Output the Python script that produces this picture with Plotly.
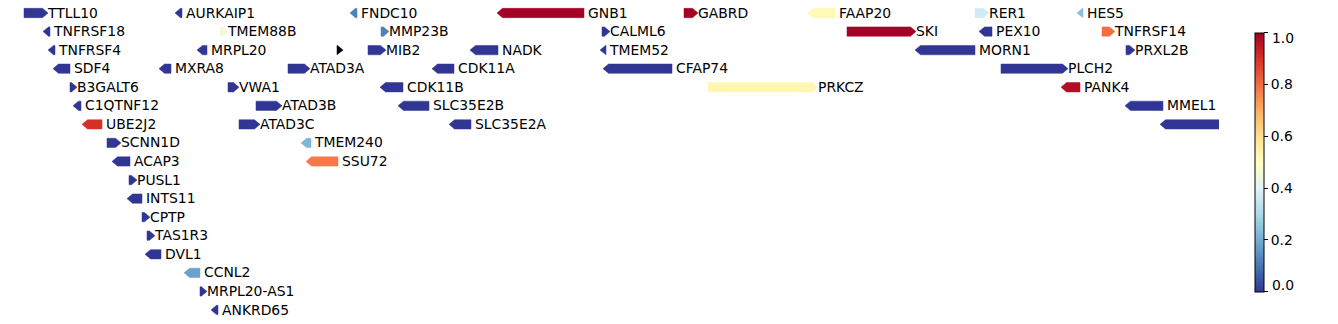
import plotly.graph_objects as go
from plotly.colors import sample_colorscale

# ---- data (gene tracks; positions in plot units) ----
genes = ["TTLL10", "AURKAIP1", "FNDC10", "GNB1", "GABRD", "FAAP20", "RER1", "HES5",
         "TNFRSF18", "TMEM88B", "MMP23B", "CALML6", "SKI", "PEX10", "TNFRSF14",
         "TNFRSF4", "MRPL20", "", "MIB2", "NADK", "TMEM52", "MORN1", "PRXL2B",
         "SDF4", "MXRA8", "ATAD3A", "CDK11A", "CFAP74", "PLCH2",
         "B3GALT6", "VWA1", "CDK11B", "PRKCZ", "PANK4",
         "C1QTNF12", "ATAD3B", "SLC35E2B", "MMEL1",
         "UBE2J2", "ATAD3C", "SLC35E2A", "",
         "SCNN1D", "TMEM240",
         "ACAP3", "SSU72",
         "PUSL1", "INTS11", "CPTP", "TAS1R3", "DVL1", "CCNL2", "MRPL20-AS1", "ANKRD65"]
starts = [24, 175, 350, 497, 684, 808, 975, 1077,
          43, 220, 381, 602, 847, 979, 1102,
          48, 197, 337, 368, 470, 600, 915, 1126,
          53, 159, 288, 432, 603, 1001,
          70, 228, 380, 708, 1061,
          73, 256, 398, 1125,
          82, 239, 449, 1160,
          107, 301,
          112, 306,
          129, 127, 142, 147, 145, 184, 200, 211]
ends = [48, 182, 357, 584, 698, 835, 989, 1083,
        50, 228, 389, 610, 916, 992, 1115,
        55, 207, 343, 386, 498, 606, 975, 1135,
        70, 171, 310, 454, 672, 1068,
        77, 239, 403, 818, 1080,
        81, 282, 429, 1163,
        102, 260, 471, 1230,
        121, 311,
        130, 338,
        137, 142, 150, 155, 161, 200, 207, 218]
strands = ["+", "-", "-", "-", "+", "-", "+", "-",
           "-", "+", "+", "+", "+", "-", "+",
           "-", "-", "+", "+", "-", "-", "-", "+",
           "-", "-", "+", "-", "-", "+",
           "+", "+", "-", "+", "-",
           "-", "+", "-", "-",
           "-", "+", "-", "-",
           "+", "-",
           "-", "-",
           "+", "-", "+", "+", "-", "-", "+", "-"]
rows = [0, 0, 0, 0, 0, 0, 0, 0,
        1, 1, 1, 1, 1, 1, 1,
        2, 2, 2, 2, 2, 2, 2, 2,
        3, 3, 3, 3, 3, 3,
        4, 4, 4, 4, 4,
        5, 5, 5, 5,
        6, 6, 6, 6,
        7, 7,
        8, 8,
        9, 10, 11, 12, 13, 14, 15, 16]
values = [0.0, 0.0, 0.12, 1.0, 1.0, 0.52, 0.37, 0.24,
          0.0, 0.45, 0.12, 0.0, 1.0, 0.0, 0.8,
          0.0, 0.0, None, 0.0, 0.0, 0.0, 0.0, 0.0,
          0.0, 0.0, 0.0, 0.0, 0.0, 0.0,
          0.0, 0.0, 0.0, 0.53, 0.97,
          0.0, 0.0, 0.0, 0.0,
          0.9, 0.0, 0.0, 0.0,
          0.0, 0.22,
          0.0, 0.78,
          0.0, 0.0, 0.0, 0.0, 0.0, 0.18, 0.0, 0.0]
cbar_ticks = [0.0, 0.2, 0.4, 0.6, 0.8, 1.0]
cbar_labels = ["0.0", "0.2", "0.4", "0.6", "0.8", "1.0"]

# ---- styling ----
CMIN, CMAX = 0.0, 1.0
SCALE = "RdYlBu_r"
HEAD = 5.5
HALF_H = 0.25
TEXT_DY = 0.06
FONT = dict(family="DejaVu Sans", size=13.9, color="black")
CB_TOP, CB_BOT = 32.5, 291.7   # colorbar extent, px from top
CB_X = 1255

def color_of(v):
    if v is None:
        return "black"
    t = min(max((v - CMIN) / (CMAX - CMIN), 0), 1)
    return sample_colorscale(SCALE, [t])[0]

fig = go.Figure()
lab_x, lab_y, lab_t = [], [], []
for g, s, e, st, r, v in zip(genes, starts, ends, strands, rows, values):
    h = min(HEAD, e - s)
    if st == "+":
        xs = [s, e - h, e, e - h, s, s]
        lab_x.append(e)
    else:
        xs = [e, s + h, s, s + h, e, e]
        lab_x.append(e + 4)
    ys = [r - HALF_H, r - HALF_H, r, r + HALF_H, r + HALF_H, r - HALF_H]
    c = color_of(v)
    fig.add_trace(go.Scatter(x=xs, y=ys, mode="lines", fill="toself",
                             fillcolor=c, line=dict(color=c, width=0.5),
                             hoverinfo="skip", showlegend=False))
    lab_y.append(r + TEXT_DY)
    lab_t.append(g)

fig.add_trace(go.Scatter(x=lab_x, y=lab_y, text=lab_t, mode="text",
                         textposition="middle right", textfont=FONT,
                         cliponaxis=True, showlegend=False, hoverinfo="skip"))

# colorbar carrier; end labels are drawn as annotations, nudged inside the bar
inner_text = [t if 0 < i < len(cbar_labels) - 1 else "" for i, t in enumerate(cbar_labels)]
fig.add_trace(go.Scatter(
    x=[-100], y=[-100], mode="markers", showlegend=False, hoverinfo="skip",
    marker=dict(size=1, color=[CMIN], cmin=CMIN, cmax=CMAX, colorscale=SCALE,
                showscale=True,
                colorbar=dict(xref="container", x=CB_X / 1338, xanchor="left",
                              yref="container", y=1 - (CB_TOP + CB_BOT) / 2 / 324,
                              yanchor="middle",
                              lenmode="pixels", len=CB_BOT - CB_TOP, thickness=9,
                              xpad=0, ypad=0,
                              outlinewidth=1, outlinecolor="black",
                              tickvals=cbar_ticks, ticktext=inner_text,
                              ticks="outside", ticklen=4, tickcolor="black",
                              tickwidth=1, tickfont=FONT))))

for lab, ypx in [(cbar_labels[-1], CB_TOP + 6), (cbar_labels[0], CB_BOT - 7)]:
    fig.add_annotation(text=lab, xref="paper", yref="paper",
                       x=(CB_X + 15) / 1219, y=1 - ypx / 324,
                       xanchor="left", yanchor="middle", showarrow=False,
                       font=FONT)

fig.update_layout(
    width=1338, height=324,
    margin=dict(l=0, r=119, t=0, b=0),
    paper_bgcolor="white", plot_bgcolor="white",
    xaxis=dict(range=[0, 1219], visible=False, fixedrange=True),
    yaxis=dict(range=[(324 - 13) / 18.56, -13 / 18.56], visible=False, fixedrange=True),
)

fig.write_html("out.html")
